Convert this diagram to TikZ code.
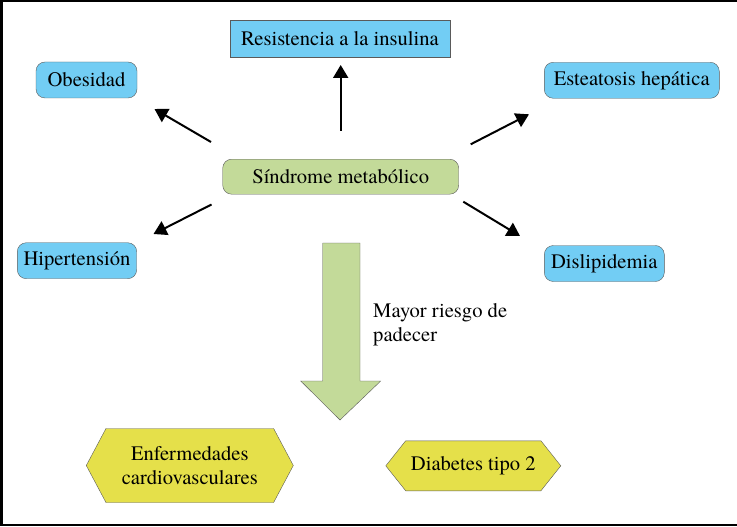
\documentclass[tikz,border=0pt]{standalone}
\usepackage{fontspec}
\setmainfont{TeX Gyre Termes}
\usetikzlibrary{arrows.meta,shapes.symbols}
\definecolor{skyfill}{RGB}{114,205,244}
\definecolor{sagefill}{RGB}{195,218,153}
\definecolor{mustard}{RGB}{229,224,74}
\definecolor{edgegray}{RGB}{90,90,90}

\begin{document}
\begin{tikzpicture}[x=1pt,y=-1pt]

\useasboundingbox (0,0) rectangle (737,527);
\draw[line width=2.5pt] (1.25,1.25) rectangle (760,524.8);

\tikzstyle{txt}=[font=\rmfamily\fontsize{20.6}{24}\selectfont]
\tikzstyle{cause}=[txt,draw=edgegray,fill=skyfill,rounded corners=9pt,minimum height=36pt,inner xsep=0pt]
\tikzstyle{hexa}=[txt,draw=edgegray,fill=mustard,shape=signal,signal to=west and east,align=center,inner sep=0pt]
\tikzstyle{arrow}=[line width=2pt,-{Triangle[length=13pt,width=15pt]}]

  \node[txt,draw=edgegray,fill=skyfill,minimum width=220pt,minimum height=37pt] (resist) at (340,39) {Resistencia a la insulina};
  \node[txt,draw=edgegray,fill=sagefill,rounded corners=9pt,minimum width=236pt,minimum height=35pt] (sindrome) at (340.7,176.7) {Síndrome metabólico};
  \foreach \name/\x/\y/\w/\text in {obes/86.5/80/101/Obesidad, estea/631.8/80.3/175/Esteatosis hepática, hiper/77/260.7/119.4/Hipertensión, disli/604.3/263.5/120/Dislipidemia}
    \node[cause,minimum width=\w pt] (\name) at (\x,\y) {\text};

  \node[hexa,minimum width=207pt,minimum height=74pt,signal pointer angle=124] (cardio) at (189.8,465.5) {Enfermedades\\cardiovasculares};
  \node[hexa,minimum width=175pt,minimum height=50pt,signal pointer angle=103] (diabetes) at (473.3,465.8) {Diabetes tipo 2};

  \foreach \name/\ax/\ay/\bx/\by in {resist/340.7/130.7/340.7/65, obes/211/142/154.5/109, hiper/211.5/204.5/153.5/234, estea/470.7/144.3/529/114.3, disli/463.3/201.7/520/236}
    { \coordinate (\name-from) at (\ax,\ay);
      \coordinate (\name-to) at (\bx,\by);
      \draw[arrow] (\name-from) -- (\name-to); }

  \draw[draw=edgegray,fill=sagefill] (322.7,243) -- (360,243) -- (360,381) -- (380.7,381)
    -- (340,420) -- (300.7,381) -- (322.7,381) -- cycle;
  \node[txt,align=left,anchor=north west,inner sep=0pt] (riesgo) at (373,303.5) {Mayor riesgo de\\padecer};

\end{tikzpicture}
\end{document}
